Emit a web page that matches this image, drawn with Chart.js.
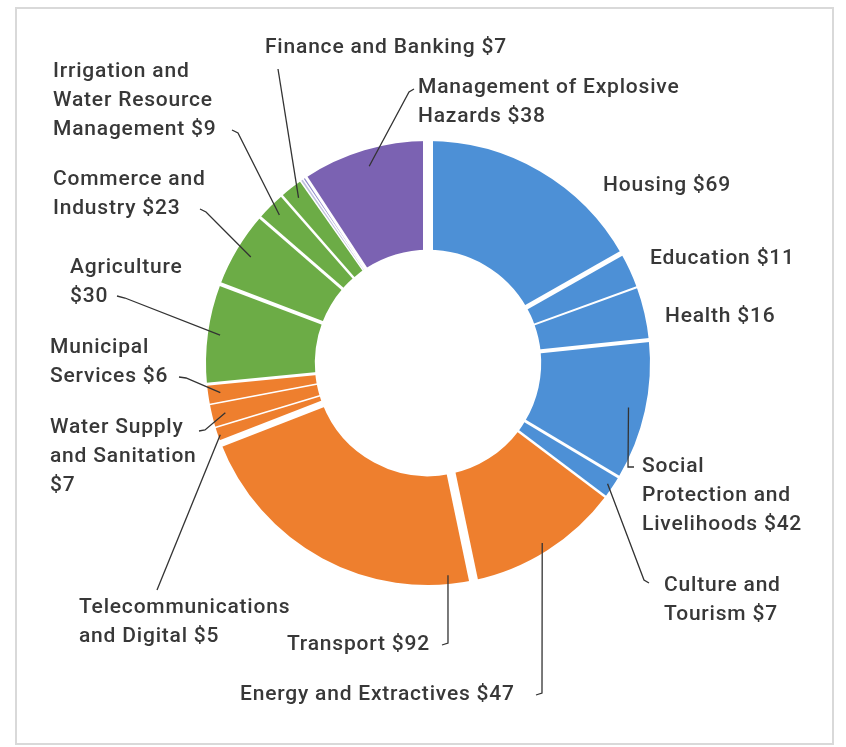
<!DOCTYPE html>
<html>
<head>
<meta charset="utf-8">
<script src="https://cdn.jsdelivr.net/npm/chart.js@4.4.1/dist/chart.umd.min.js"></script>
<style>
  html, body { margin: 0; background: #fff; }
  canvas { display: block; }
</style>
</head>
<body>
<canvas id="c" width="846" height="747" style="width:846px;height:747px"></canvas>
<script>
// sectors, clockwise from 12 o'clock
const sectors = [
  'Housing', 'Education', 'Health', 'Social Protection and Livelihoods', 'Culture and Tourism',
  'Energy and Extractives', 'Transport', 'Telecommunications and Digital', 'Water Supply and Sanitation',
  'Municipal Services', 'Agriculture', 'Commerce and Industry', 'Irrigation and Water Resource Management',
  'Finance and Banking', 'Other', 'Other', 'Management of Explosive Hazards',
]
const amounts = [69, 11, 16, 42, 7, 47, 92, 5, 7, 6, 30, 23, 9, 7, 1, 1, 38]

// how each label is broken into lines (amount is appended to the last line)
const labelLines = [
  ['Housing'], ['Education'], ['Health'], ['Social', 'Protection and', 'Livelihoods'], ['Culture and', 'Tourism'],
  ['Energy and Extractives'], ['Transport'], ['Telecommunications', 'and Digital'], ['Water Supply', 'and Sanitation', ''],
  ['Municipal', 'Services'], ['Agriculture', ''], ['Commerce and', 'Industry'], ['Irrigation and', 'Water Resource', 'Management'],
  ['Finance and Banking'], null, null, ['Management of Explosive', 'Hazards'],
]

const BLUE = '#4d90d6', ORANGE = '#ee7f2e', GREEN = '#6cac46', PURPLE = '#7b62b2'
const COLORS = [BLUE, BLUE, BLUE, BLUE, BLUE, ORANGE, ORANGE, ORANGE, ORANGE, ORANGE,
  GREEN, GREEN, GREEN, GREEN, '#bfc2de', '#8a84c8', PURPLE]

// white gap after each slice (px)
const GAPS = [5, 2, 4, 3, 2.5, 9, 7, 1.5, 1.5, 3, 4, 3, 2.5, 1.5, 1.5, 3, 10]

// label placement: text left/middle of first line, leader start on the slice, elbow points
const LAYOUT = [
  { x: 603, y: 186 },
  { x: 650, y: 259 },
  { x: 665, y: 317 },
  { x: 642, y: 467, f: 0.5, r: 0.925, path: [[628, 467], [634, 467]] },
  { x: 664, y: 586, f: 0.5, r: 0.975, path: [[644, 580], [649, 583]] },
  { x: 240, y: 695, f: 0.5, r: 0.96, path: [[542, 693], [536, 695]] },
  { x: 287, y: 645, f: 0.08, r: 0.96, path: [[448, 643], [442, 645]] },
  { x: 79, y: 608, f: 0.5, r: 0.99, path: [[157, 590]] },
  { x: 50, y: 428, f: 0.5, r: 0.94, path: [[205, 430], [199, 431]] },
  { x: 50, y: 348, f: 0.5, r: 0.945, path: [[186, 378], [179, 377]] },
  { x: 70, y: 268, f: 0.5, r: 0.945, path: [[125, 298], [117, 296]] },
  { x: 53, y: 180, f: 0.5, r: 0.93, path: [[206, 212], [200, 209]] },
  { x: 53, y: 72, f: 0.5, r: 0.945, path: [[238, 133], [232, 130]] },
  { x: 265, y: 48, f: 0.5, r: 0.945, path: [[278, 69]] },
  null, null,
  { x: 418, y: 88, f: 0.5, r: 0.925, path: [[409, 92], [414, 89]] },
]

const LINE_H = 29
const FONT = '500 21px Roboto'
const TEXT = '#383838'

const frame = {
  id: 'frame',
  beforeDraw(chart) {
    const ctx = chart.ctx
    ctx.save()
    ctx.strokeStyle = '#d9d9d9'
    ctx.lineWidth = 2
    ctx.strokeRect(16, 8, 817, 736)
    ctx.restore()
  },
}

const annotate = {
  id: 'annotate',
  afterDatasetsDraw(chart) {
    const ctx = chart.ctx
    const arcs = chart.getDatasetMeta(0).data
    ctx.save()

    // gaps between slices
    ctx.strokeStyle = '#fff'
    ctx.lineCap = 'butt'
    arcs.forEach((arc, i) => {
      const a = arc.getProps(['x', 'y', 'endAngle', 'innerRadius', 'outerRadius'], true)
      ctx.lineWidth = GAPS[i]
      ctx.beginPath()
      ctx.moveTo(a.x + (a.innerRadius - 2) * Math.cos(a.endAngle), a.y + (a.innerRadius - 2) * Math.sin(a.endAngle))
      ctx.lineTo(a.x + (a.outerRadius + 3) * Math.cos(a.endAngle), a.y + (a.outerRadius + 3) * Math.sin(a.endAngle))
      ctx.stroke()
    })

    // leaders
    ctx.strokeStyle = '#333'
    ctx.lineWidth = 1.3
    arcs.forEach((arc, i) => {
      const L = LAYOUT[i]
      if (!L || !L.path) return
      const a = arc.getProps(['x', 'y', 'startAngle', 'endAngle', 'outerRadius'], true)
      const ang = a.startAngle + (a.endAngle - a.startAngle) * L.f
      const r = a.outerRadius * L.r
      ctx.beginPath()
      ctx.moveTo(a.x + r * Math.cos(ang), a.y + r * Math.sin(ang))
      L.path.forEach(p => ctx.lineTo(p[0], p[1]))
      ctx.stroke()
    })

    // label text
    ctx.font = FONT
    ctx.letterSpacing = '0.8px'
    ctx.fillStyle = TEXT
    ctx.textBaseline = 'middle'
    ctx.textAlign = 'left'
    labelLines.forEach((lines, i) => {
      const L = LAYOUT[i]
      if (!lines || !L) return
      const val = '$' + amounts[i]
      lines.forEach((t, k) => {
        let s = t
        if (k === lines.length - 1) s = t ? t + ' ' + val : val
        ctx.fillText(s, L.x, L.y + k * LINE_H)
      })
    })
    ctx.restore()
  },
}

new Chart(document.getElementById('c'), {
  type: 'doughnut',
  data: {
    labels: sectors,
    datasets: [{
      data: amounts,
      backgroundColor: COLORS,
      borderWidth: 0,
    }],
  },
  options: {
    responsive: false,
    animation: false,
    devicePixelRatio: 1,
    radius: 222,
    cutout: '51%',
    layout: { padding: { left: 10, right: 0, top: 0, bottom: 21 } },
    plugins: {
      legend: { display: false },
      tooltip: { enabled: false },
    },
  },
  plugins: [frame, annotate],
})
</script>
</body>
</html>
